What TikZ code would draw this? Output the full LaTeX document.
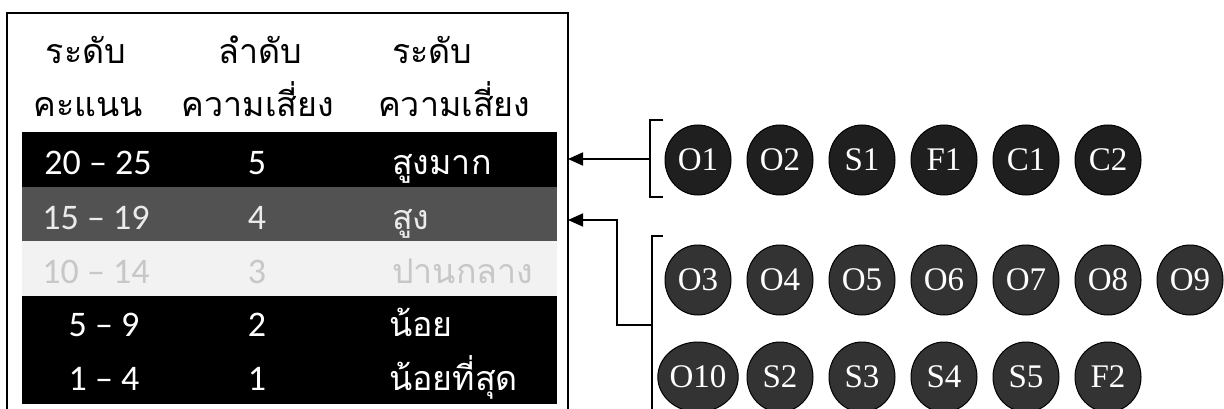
\documentclass[tikz,border=0pt]{standalone}
\usepackage{fontspec}
\setmainfont{Carlito}
\newfontfamily\thaif[Script=Thai]{Loma}
\newfontfamily\circf{Liberation Serif}
\usetikzlibrary{arrows.meta,shapes.geometric}
\begin{document}
\begin{tikzpicture}[x=1pt,y=-1pt,
  line/.style={line width=2pt,black},
  conn/.style={line width=1.8pt,black,-{Triangle[length=15pt,width=13pt]}},
  hdr/.style={anchor=base,font=\thaif\fontsize{34}{36}\selectfont,inner sep=0},
  cell/.style={anchor=base,font=\fontsize{36}{40}\selectfont,inner sep=0,text=white},
  tcell/.style={anchor=base west,font=\thaif\fontsize{34}{36}\selectfont,inner sep=0,text=white},
  risk/.style={ellipse,fill=black!88,draw=black,line width=1pt,minimum width=66pt,minimum height=70pt,inner sep=0,text=white,font=\circf\fontsize{33}{35}\selectfont}]
\useasboundingbox (0,0) rectangle (1224,409);
% bands
\fill[black] (22,132) rectangle (557,187);
\fill[black!68] (22,187) rectangle (557,241);
\fill[black!5] (22,241) rectangle (557,296);
\fill[black] (22,296) rectangle (557,404);
% table frame
\draw[line] (7,409) -- (7,13) -- (568,13) -- (568,409);
\coordinate (t1) at (568,159);
\coordinate (t2) at (568,220);
% headers
\node[hdr] (h11) at (86,64) {ระดับ};
\node[hdr] (h12) at (88,117) {คะแนน};
\node[hdr] (h21) at (260,64) {ลำดับ};
\node[hdr] (h22) at (258,117) {ความเสี่ยง};
\node[hdr,anchor=base west] (h31) at (392,64) {ระดับ};
\node[hdr,anchor=base west] (h32) at (378,117) {ความเสี่ยง};
% rows
\node[cell] (r1a) at (98,175) {20 -- 25};
\node[cell] (r1b) at (257,175) {5};
\node[tcell] (r1c) at (392,175) {สูงมาก};
\node[cell,text=white!92!black] (r2a) at (96,229) {15 -- 19};
\node[cell,text=white!92!black] (r2b) at (257,229) {4};
\node[tcell,text=white!92!black] (r2c) at (392,229) {สูง};
\node[cell,text=black!22] (r3a) at (96,283) {10 -- 14};
\node[cell,text=black!22] (r3b) at (257,283) {3};
\node[tcell,text=black!22] (r3c) at (392,283) {ปานกลาง};
\node[cell] (r4a) at (104,336) {5 -- 9};
\node[cell] (r4b) at (257,336) {2};
\node[tcell] (r4c) at (389,336) {น้อย};
\node[cell] (r5a) at (104,390) {1 -- 4};
\node[cell] (r5b) at (257,390) {1};
\node[tcell] (r5c) at (389,390) {น้อยที่สุด};
% circles
\foreach \t [count=\i from 0] in {O1,O2,S1,F1,C1,C2}
  \node[risk] (c\t) at (698+82*\i,160) {\t};
\foreach \t [count=\i from 0] in {O3,O4,O5,O6,O7,O8,O9}
  \node[risk,fill=black!80] (c\t) at (698+82*\i,280) {\t};
\foreach \t [count=\i from 0] in {O10,S2,S3,S4,S5,F2}
  \node[risk,fill=black!80] (c\t) at (698+82*\i,377) {\t};
% brackets
\draw[line] (663,120) -- (650,120) -- (650,197) -- (663,197);
\draw[line] (663,236) -- (652,236) -- (652,409);
\coordinate (b1) at (650,159);
\coordinate (b2) at (652,325);
\coordinate (k2) at (617,325);
\coordinate (k1) at (617,220);
% connectors
\draw[conn] (b1) -- (t1);
\draw[conn] (b2) -- (k2) -- (k1) -- (t2);
\end{tikzpicture}
\end{document}
